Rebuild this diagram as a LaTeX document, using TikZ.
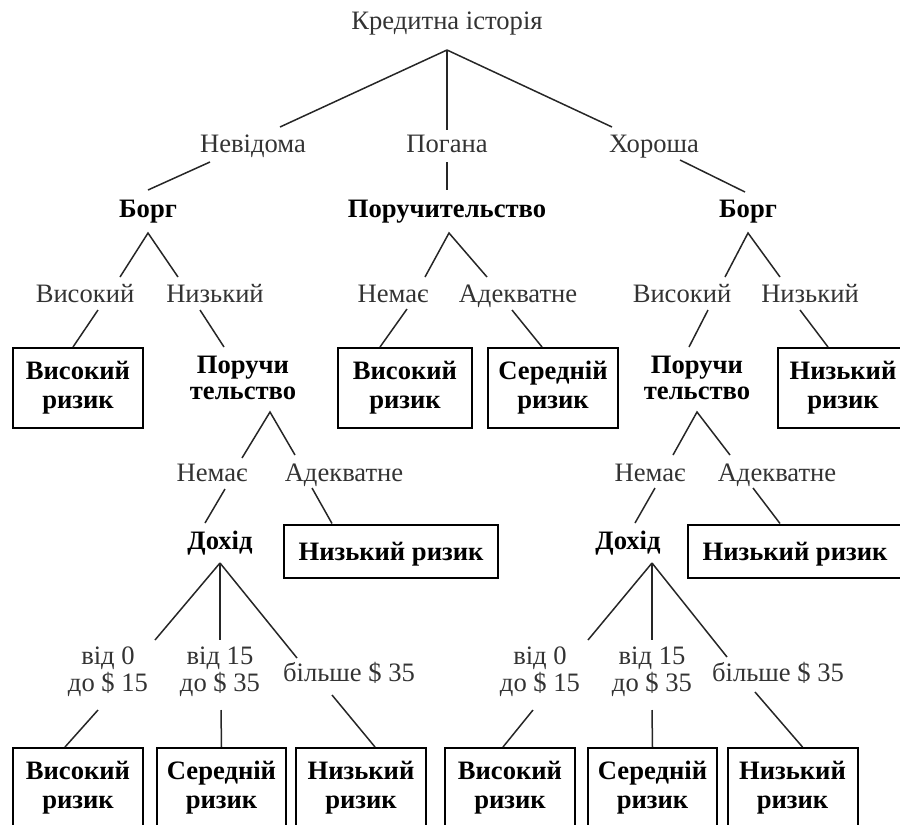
\documentclass[tikz,border=0pt]{standalone}
\usepackage{fontspec}
\setmainfont{Liberation Serif}
\usetikzlibrary{calc}

\begin{document}
\begin{tikzpicture}[
  x=0.5pt, y=-0.5pt,
  font=\fontsize{13.3}{13.5}\selectfont,
  lbl/.style={inner sep=0pt, align=center, text=black!80},
  one/.style={text height=9pt, text depth=0pt},
  attr/.style={inner sep=0pt, align=center, font=\fontsize{13.3}{13}\selectfont\bfseries},
  leaf/.style={rectangle, draw, line width=1pt, align=center, inner sep=0pt,
               minimum width=65pt, minimum height=40pt, font=\fontsize{13.3}{14.5}\selectfont\bfseries},
  wide/.style={leaf, one, minimum width=107pt, minimum height=26.5pt},
  edge/.style={line width=0.75pt, draw=black!85}]
\useasboundingbox (0,0) rectangle (900,825);
\clip (0,0) rectangle (900,825);

% root and first split
\node[lbl, one] (root) at (447,20) {Кредитна історія};
\node[lbl, one] (nev) at (253,143) {Невідома};
\node[lbl, one] (pog) at (447,143) {Погана};
\node[lbl, one] (hor) at (654,143) {Хороша};
\node[attr, one] (borg1) at (148,208) {Борг};
\node[attr, one] (poruch) at (447,208) {Поручительство};
\node[attr, one] (borg2) at (748,208) {Борг};

% second split
\node[lbl, one] (vys1) at (85,293) {Високий};
\node[lbl, one] (nyz1) at (215,293) {Низький};
\node[lbl, one] (nem1) at (393,293) {Немає};
\node[lbl, one] (ade1) at (518,293) {Адекватне};
\node[lbl, one] (vys2) at (682,293) {Високий};
\node[lbl, one] (nyz2) at (810,293) {Низький};
\node[leaf] (hi1) at (78,388) {Високий\\ризик};
\node[attr] (por1) at (243,378) {Поручи\\тельство};
\node[leaf, minimum width=67pt] (hi2) at (405,388) {Високий\\ризик};
\node[leaf] (mid1) at (553,388) {Середній\\ризик};
\node[attr] (por2) at (697,378) {Поручи\\тельство};
\node[leaf] (lo1) at (843,388) {Низький\\ризик};

% third split
\node[lbl, one] (nem2) at (212,472) {Немає};
\node[lbl, one] (ade2) at (344,472) {Адекватне};
\node[lbl, one] (nem3) at (650,472) {Немає};
\node[lbl, one] (ade3) at (777,472) {Адекватне};
\node[attr, one] (doh1) at (220,540) {Дохід};
\node[wide] (lo2) at (391,551) {Низький ризик};
\node[attr, one] (doh2) at (628,540) {Дохід};
\node[wide] (lo3) at (795,551) {Низький ризик};

% income
\node[lbl] (a1) at (108,672) {від 0\\до \$ 15};
\node[lbl] (b1) at (220,672) {від 15\\до \$ 35};
\node[lbl, one] (c1) at (349,672) {більше \$ 35};
\node[lbl] (a2) at (540,672) {від 0\\до \$ 15};
\node[lbl] (b2) at (652,672) {від 15\\до \$ 35};
\node[lbl, one] (c2) at (778,672) {більше \$ 35};
\node[leaf] (r1) at (78,788) {Високий\\ризик};
\node[leaf, minimum width=64.5pt] (r2) at (221.5,788) {Середній\\ризик};
\node[leaf] (r3) at (361,788) {Низький\\ризик};
\node[leaf] (r4) at (510,788) {Високий\\ризик};
\node[leaf, minimum width=64.5pt] (r5) at (652.5,788) {Середній\\ризик};
\node[leaf] (r6) at (792.5,788) {Низький\\ризик};

% connectors
\draw[edge] ($(root)+(0,30)$) -- ($(nev)+(27,-16)$);
\draw[edge] ($(root)+(0,30)$) -- ($(pog)+(0,-13)$);
\draw[edge] ($(root)+(0,30)$) -- ($(hor)+(-42,-16)$);
\draw[edge] ($(nev)+(-43,19)$) -- ($(borg1)+(0,-18)$);
\draw[edge] ($(pog)+(0,19)$) -- ($(poruch)+(0,-18)$);
\draw[edge] ($(hor)+(26,17)$) -- ($(borg2)+(-3,-16)$);

\draw[edge] ($(vys1)+(35,-16)$) -- ($(borg1)+(0,25)$) -- ($(nyz1)+(-37,-16)$);
\draw[edge] ($(vys1)+(13,17)$) -- ($(hi1.north)+(-5,0)$);
\draw[edge] ($(nyz1)+(-15,17)$) -- ($(por1)+(-19,-31)$);
\draw[edge] ($(nem1)+(32,-16)$) -- ($(poruch)+(2,25)$) -- ($(ade1)+(-31,-16)$);
\draw[edge] ($(nem1)+(14,16)$) -- ($(hi2.north)+(-25,0)$);
\draw[edge] ($(ade1)+(-6,17)$) -- ($(mid1.north)+(-11,0)$);
\draw[edge] ($(vys2)+(43,-16)$) -- ($(borg2)+(0,25)$) -- ($(nyz2)+(-30,-16)$);
\draw[edge] ($(vys2)+(26,17)$) -- ($(por2)+(-8,-31)$);
\draw[edge] ($(nyz2)+(-10,17)$) -- ($(lo1.north)+(-15,0)$);

\draw[edge] ($(nem2)+(30,-14)$) -- ($(por1)+(27,34)$) -- ($(ade2)+(-49,-17)$);
\draw[edge] ($(nem2)+(13,17)$) -- ($(doh1)+(-15,-17)$);
\draw[edge] ($(ade2)+(-32,16)$) -- ($(lo2.north)+(-59,0)$);
\draw[edge] ($(nem3)+(23,-17)$) -- ($(por2)+(0,34)$) -- ($(ade3)+(-47,-17)$);
\draw[edge] ($(nem3)+(5,16)$) -- ($(doh2)+(7,-17)$);
\draw[edge] ($(ade3)+(-24,16)$) -- ($(lo3.north)+(-15,0)$);

\draw[edge] ($(doh1)+(0,23)$) -- ($(a1)+(47,-32)$);
\draw[edge] ($(doh1)+(0,23)$) -- ($(b1)+(0,-32)$);
\draw[edge] ($(doh1)+(0,23)$) -- ($(c1)+(-52,-14)$);
\draw[edge] ($(a1)+(-10,38)$) -- ($(r1.north)+(-13,0)$);
\draw[edge] ($(b1)+(1,38)$) -- (r2.north);
\draw[edge] ($(c1)+(-17,23)$) -- ($(r3.north)+(14,0)$);
\draw[edge] ($(doh2)+(24,23)$) -- ($(a2)+(48,-32)$);
\draw[edge] ($(doh2)+(24,23)$) -- ($(b2)+(0,-32)$);
\draw[edge] ($(doh2)+(24,23)$) -- ($(c2)+(-51,-15)$);
\draw[edge] ($(a2)+(-7,38)$) -- ($(r4.north)+(-7,0)$);
\draw[edge] ($(b2)+(0,38)$) -- (r5.north);
\draw[edge] ($(c2)+(-23,20)$) -- ($(r6.north)+(10,0)$);
\end{tikzpicture}
\end{document}
